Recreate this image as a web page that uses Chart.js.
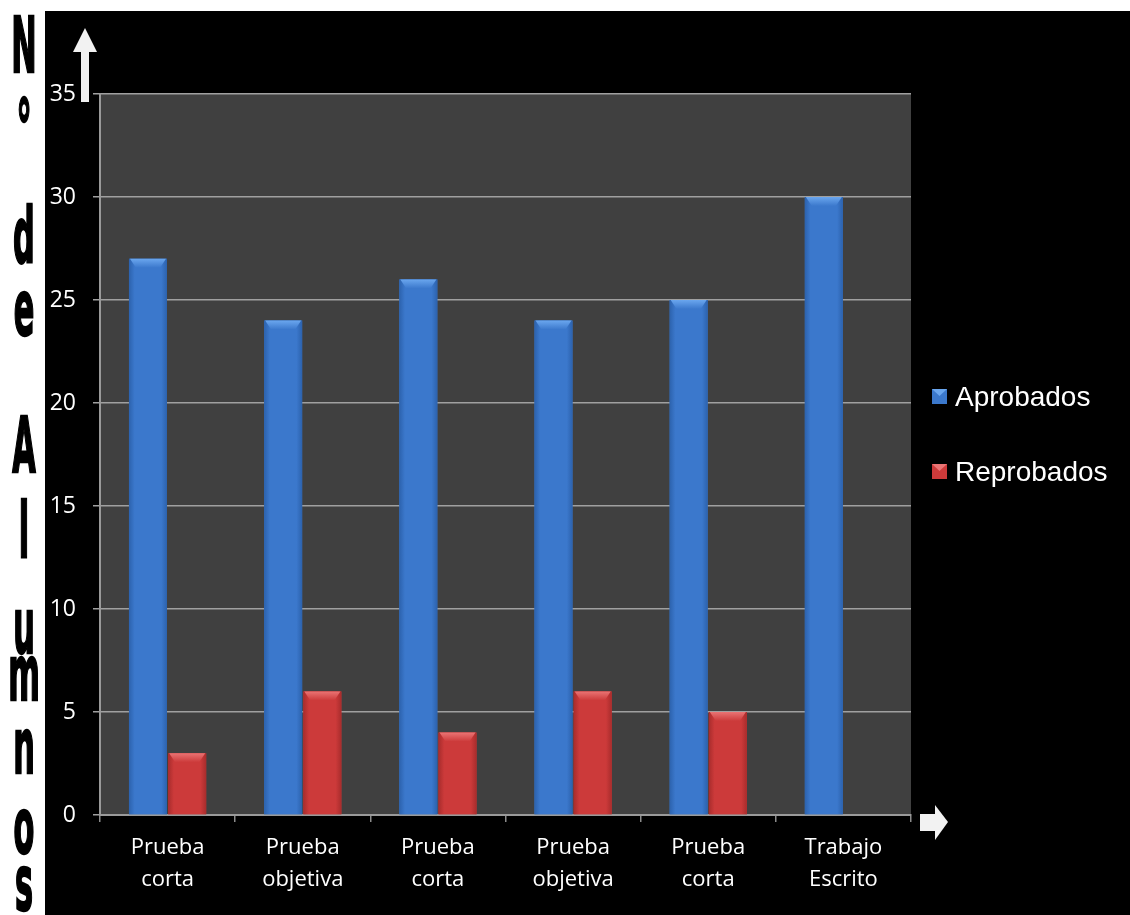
<!DOCTYPE html>
<html>
<head>
<meta charset="utf-8">
<script src="https://cdn.jsdelivr.net/npm/chart.js@4/dist/chart.umd.min.js"></script>
<style>
html,body{margin:0;padding:0;background:#fff;}
#wrap{width:1130px;height:915px;}
</style>
</head>
<body>
<div id="wrap"><canvas id="c" width="1130" height="915"></canvas></div>
<script>
const categories = [
  ['Prueba','corta'],
  ['Prueba','objetiva'],
  ['Prueba','corta'],
  ['Prueba','objetiva'],
  ['Prueba','corta'],
  ['Trabajo','Escrito']
];
const aprobados = [27, 24, 26, 24, 25, 30];
const reprobados = [3, 6, 4, 6, 5, 0];
const seriesNames = ['Aprobados', 'Reprobados'];
const yTicks = [0, 5, 10, 15, 20, 25, 30, 35];
const titleLetters = ['N','°','d','e','A','l','u','m','n','o','s'];

const BLUE = '#3b78cc', BLUE_HI = '#6aa6ee', BLUE_DK = '#2c62ad';
const RED = '#cc3a3a', RED_HI = '#ea7474', RED_DK = '#a82c2c';

const bgPlugin = {
  id: 'bg',
  beforeDraw(chart) {
    const ctx = chart.ctx, a = chart.chartArea;
    ctx.save();
    ctx.fillStyle = '#ffffff';
    ctx.fillRect(0, 0, chart.width, chart.height);
    ctx.fillStyle = '#000000';
    ctx.fillRect(45, 11, chart.width - 45, chart.height - 11);
    ctx.fillStyle = '#404040';
    ctx.fillRect(a.left, a.top, a.right - a.left, a.bottom - a.top);
    ctx.restore();
  }
};

const barStyle = {
  id: 'barStyle',
  afterDatasetsDraw(chart) {
    const ctx = chart.ctx;
    const pal = [[BLUE_DK, BLUE, BLUE_HI], [RED_DK, RED, RED_HI]];
    chart.data.datasets.forEach((ds, di) => {
      const meta = chart.getDatasetMeta(di);
      meta.data.forEach(el => {
        const h = el.base - el.y;
        if (h <= 0.5) return;
        const l = el.x - el.width / 2, r = el.x + el.width / 2, t = el.y, b = el.base;
        const [dk, mid, hi] = pal[di];
        ctx.save();
        const g = ctx.createLinearGradient(l, 0, r, 0);
        g.addColorStop(0, dk);
        g.addColorStop(0.15, mid);
        g.addColorStop(0.85, mid);
        g.addColorStop(1, dk);
        ctx.fillStyle = g;
        ctx.fillRect(l, t, r - l, b - t);
        const gt = ctx.createLinearGradient(0, t, 0, t + 9);
        gt.addColorStop(0, hi);
        gt.addColorStop(1, mid);
        ctx.fillStyle = gt;
        ctx.beginPath();
        ctx.moveTo(l + 1, t);
        ctx.lineTo(r - 1, t);
        ctx.lineTo(r - 7, t + 9);
        ctx.lineTo(l + 7, t + 9);
        ctx.closePath();
        ctx.fill();
        ctx.restore();
      });
    });
  }
};

const decor = {
  id: 'decor',
  afterDraw(chart) {
    const ctx = chart.ctx;
    ctx.save();
    const bottoms = [72, 155, 262, 335, 472, 557, 653, 700, 773, 853, 910];
    ctx.fillStyle = '#000';
    ctx.strokeStyle = '#000';
    ctx.lineWidth = 1.2;
    ctx.textAlign = 'center';
    ctx.textBaseline = 'alphabetic';
    ctx.font = 'bold 38px "DejaVu Sans"';
    titleLetters.forEach((ch, i) => {
      ctx.save();
      ctx.translate(24, bottoms[i]);
      ctx.scale(0.8, 2.0);
      ctx.fillText(ch, 0, 0);
      ctx.strokeText(ch, 0, 0);
      ctx.restore();
    });
    ctx.fillStyle = '#f2f2f2';
    ctx.fillRect(81, 50, 8, 52);
    ctx.beginPath();
    ctx.moveTo(73, 52); ctx.lineTo(97, 52); ctx.lineTo(85, 28); ctx.closePath(); ctx.fill();
    ctx.fillRect(920, 814, 16, 17);
    ctx.beginPath();
    ctx.moveTo(935, 805); ctx.lineTo(935, 840); ctx.lineTo(948, 822); ctx.closePath(); ctx.fill();
    const ly = [397, 472];
    const cols = [[BLUE, BLUE_HI], [RED, RED_HI]];
    ctx.font = '28px "Liberation Sans", Arial, sans-serif';
    ctx.textAlign = 'left';
    ctx.textBaseline = 'middle';
    chart.data.datasets.forEach((ds, i) => {
      const y = ly[i];
      ctx.fillStyle = cols[i][0];
      ctx.fillRect(932, y - 8, 15, 15);
      ctx.fillStyle = cols[i][1];
      ctx.beginPath();
      ctx.moveTo(932, y - 8); ctx.lineTo(947, y - 8); ctx.lineTo(939.5, y - 1); ctx.closePath(); ctx.fill();
      ctx.fillStyle = '#ffffff';
      ctx.fillText(ds.label, 955, y + 1);
    });
    ctx.restore();
  }
};

new Chart(document.getElementById('c'), {
  type: 'bar',
  data: {
    labels: categories,
    datasets: [
      { label: seriesNames[0], data: aprobados, backgroundColor: BLUE, borderWidth: 0 },
      { label: seriesNames[1], data: reprobados, backgroundColor: RED, borderWidth: 0 }
    ]
  },
  options: {
    responsive: false,
    animation: false,
    devicePixelRatio: 1,
    layout: { padding: { left: 45, top: 94, right: 219, bottom: 20 } },
    plugins: { legend: { display: false }, tooltip: { enabled: false } },
    datasets: { bar: { categoryPercentage: 0.58, barPercentage: 0.97 } },
    scales: {
      x: {
        offset: true,
        afterFit(s) { s.height = 80; },
        grid: { drawOnChartArea: false, drawTicks: true, tickLength: 7, color: '#8c8c8c', lineWidth: 1.5 },
        border: { color: '#9a9a9a', width: 2 },
        ticks: { color: '#ffffff', padding: 10, font: { family: '"Open Sans", sans-serif', size: 22, lineHeight: 1.45 }, maxRotation: 0, autoSkip: false }
      },
      y: {
        min: 0, max: 35,
        afterFit(s) { s.width = 55; },
        afterBuildTicks(s) { s.ticks = yTicks.map(v => ({ value: v })); },
        grid: { color: '#a0a0a0', lineWidth: 1.5, tickLength: 7 },
        border: { color: '#9a9a9a', width: 2 },
        ticks: { color: '#ffffff', padding: 17, font: { family: '"Open Sans", sans-serif', size: 23 } }
      }
    }
  },
  plugins: [bgPlugin, barStyle, decor]
});
</script>
</body>
</html>
